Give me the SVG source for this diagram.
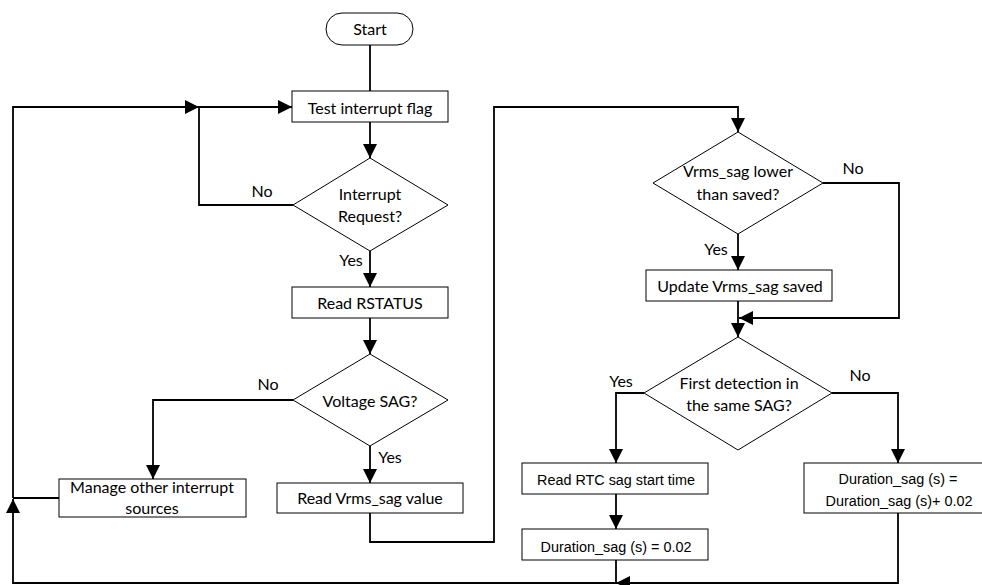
<svg xmlns="http://www.w3.org/2000/svg" width="982" height="585" viewBox="0 0 982 585">
  <defs>
    <marker id="arrow" viewBox="0 0 10 10" refX="10" refY="5" markerWidth="15" markerHeight="14" markerUnits="userSpaceOnUse" orient="auto">
      <path d="M0,0 L10,5 L0,10 z" fill="#000"/>
    </marker>
    <style>
      .shape { fill: #fff; stroke: #000; stroke-width: 1; }
      .wire { fill: none; stroke: #000; stroke-width: 1.8; }
      .arr { marker-end: url(#arrow); }
      text { font-family: Lato, "Liberation Sans", sans-serif; font-size: 16px; fill: #000; text-anchor: middle; }
      .lbl { text-anchor: start; }
      .narrow { font-family: "Liberation Sans Narrow", "Liberation Sans", sans-serif; font-size: 15.5px; }
    </style>
  </defs>
  <rect width="982" height="585" fill="#fff"/>

  <!-- connectors -->
  <g id="connectors">
    <path class="wire" d="M370,45 V91"/>
    <path class="wire arr" d="M370,122 V158"/>
    <path class="wire arr" d="M293,205 H199 V107 H292"/>
    <path class="wire arr" d="M13,498 V107 H199"/>
    <path class="wire arr" d="M370,251 V287"/>
    <path class="wire arr" d="M370,318 V354"/>
    <path class="wire arr" d="M293,400 H153 V479"/>
    <path class="wire arr" d="M370,446 V483"/>
    <path class="wire" d="M59,498 H13"/>
    <path class="wire arr" d="M616,560 V583 H13 V499"/>
    <path class="wire arr" d="M898,513 V583 H616"/>
    <path class="wire arr" d="M370,513 V542 H494 V107 H738 V132"/>
    <path class="wire arr" d="M738,234 V270"/>
    <path class="wire arr" d="M823,183 H899 V318 H739"/>
    <path class="wire arr" d="M738,301 V337"/>
    <path class="wire arr" d="M644,393 H616 V463"/>
    <path class="wire arr" d="M616,494 V529"/>
    <path class="wire arr" d="M832,393 H898 V463"/>
  </g>

  <!-- branch labels -->
  <g id="labels">
    <text x="262" y="197">No</text>
    <text x="351" y="266">Yes</text>
    <text x="268" y="390">No</text>
    <text x="390" y="463">Yes</text>
    <text x="853" y="174">No</text>
    <text x="716" y="255">Yes</text>
    <text x="621" y="387">Yes</text>
    <text x="860" y="381">No</text>
  </g>

  <g id="start">
    <rect class="shape" x="326" y="13" width="87" height="32" rx="16" ry="16"/>
    <text x="370" y="35">Start</text>
  </g>

  <g id="test-flag">
    <rect class="shape" x="292" y="91" width="156" height="31"/>
    <text x="370" y="114">Test interrupt flag</text>
  </g>

  <g id="interrupt-request">
    <polygon class="shape" points="370,158 448,205 370,251 293,205"/>
    <text x="370" y="200">Interrupt</text>
    <text x="370" y="222">Request?</text>
  </g>

  <g id="read-rstatus">
    <rect class="shape" x="292" y="287" width="156" height="31"/>
    <text x="370" y="309">Read RSTATUS</text>
  </g>

  <g id="voltage-sag">
    <polygon class="shape" points="370,354 448,400 370,446 293,400"/>
    <text x="370" y="407">Voltage SAG?</text>
  </g>

  <g id="manage-other">
    <rect class="shape" x="59" y="479" width="187" height="38"/>
    <text x="152" y="493">Manage other interrupt</text>
    <text x="152" y="514">sources</text>
  </g>

  <g id="read-vrms">
    <rect class="shape" x="277" y="483" width="186" height="30"/>
    <text x="370" y="504">Read Vrms_sag value</text>
  </g>

  <g id="vrms-lower">
    <polygon class="shape" points="738,132 823,183 738,234 653,183"/>
    <text x="738" y="177">Vrms_sag lower</text>
    <text x="738" y="200">than saved?</text>
  </g>

  <g id="update-vrms">
    <rect class="shape" x="646" y="270" width="186" height="31"/>
    <text x="740" y="292">Update Vrms_sag saved</text>
  </g>

  <g id="first-detection">
    <polygon class="shape" points="738,337 832,393 738,450 644,393"/>
    <text x="739" y="389">First detection in</text>
    <text x="739" y="411">the same SAG?</text>
  </g>

  <g id="read-rtc">
    <rect class="shape" x="522" y="463" width="186" height="31"/>
    <text class="narrow" x="616" y="485" textLength="158" lengthAdjust="spacingAndGlyphs">Read RTC sag start time</text>
  </g>

  <g id="duration-init">
    <rect class="shape" x="522" y="529" width="186" height="31"/>
    <text class="narrow" x="616" y="552" textLength="151" lengthAdjust="spacingAndGlyphs">Duration_sag (s) = 0.02</text>
  </g>

  <g id="duration-add">
    <rect class="shape" x="804" y="463" width="188" height="50"/>
    <text class="narrow" x="898" y="484" textLength="119" lengthAdjust="spacingAndGlyphs">Duration_sag (s) =</text>
    <text class="narrow" x="899" y="506" textLength="147" lengthAdjust="spacingAndGlyphs">Duration_sag (s)+ 0.02</text>
  </g>
</svg>
